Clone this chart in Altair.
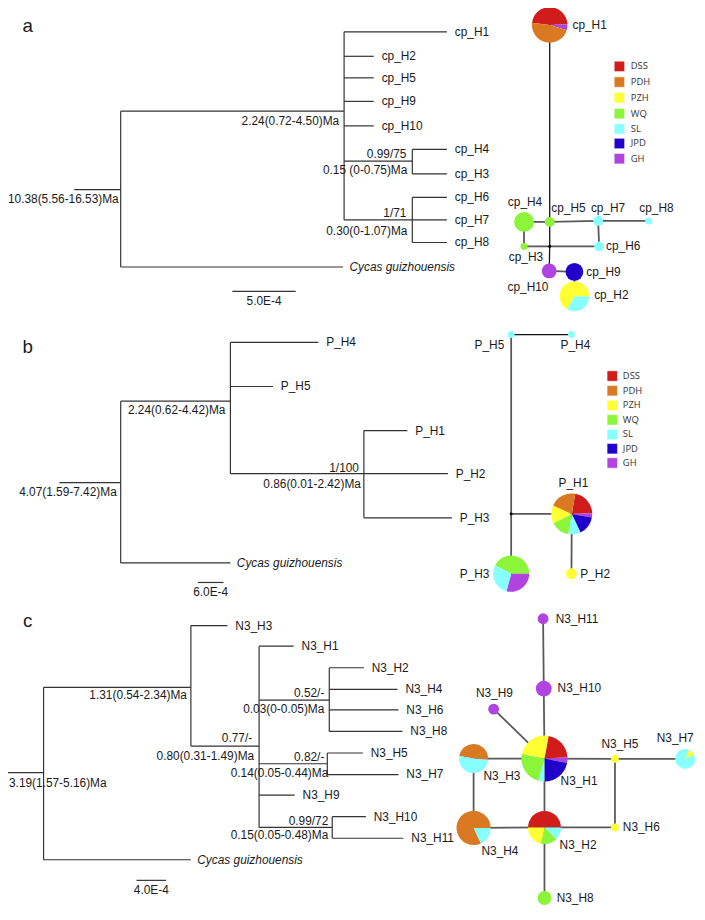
import math
import altair as alt
import pandas as pd

# ---------------- populations ----------------
POPS = ["DSS", "PDH", "PZH", "WQ", "SL", "JPD", "GH"]
POP_COLORS = ["#d11c1c", "#d97a22", "#ffff33", "#8cf53a", "#88ffff", "#2200cc", "#b044e0"]

# ---------------- trees: (id, x, y, parent) ----------------
TREE_A = [
    ("Ra", 122, 188, None), ("A1", 348, 108, "Ra"), ("Cga", 347, 267, "Ra"),
    ("cp_H1", 452, 27, "A1"), ("cp_H2", 378, 52, "A1"), ("cp_H5", 378, 74, "A1"),
    ("cp_H9", 378, 98, "A1"), ("cp_H10", 378, 123, "A1"),
    ("A2", 417, 159, "A1"), ("cp_H4", 452, 147, "A2"), ("cp_H3", 452, 172, "A2"),
    ("A3", 417, 219, "A1"), ("cp_H6", 452, 196, "A3"), ("cp_H7", 452, 219, "A3"),
    ("cp_H8", 452, 242, "A3"),
]
TREE_B = [
    ("Rb", 122, 487, None), ("B1", 233, 404, "Rb"), ("Cgb", 233, 569, "Rb"),
    ("P_H4", 322, 344, "B1"), ("P_H5", 276, 389, "B1"), ("B2", 368, 478, "B1"),
    ("P_H1", 412, 434, "B2"), ("P_H2", 453, 478, "B2"), ("P_H3", 457, 523, "B2"),
]
TREE_C = [
    ("Rc", 44, 783, None), ("C1", 193, 696, "Rc"), ("Cgc", 193, 872, "Rc"),
    ("N3_H3", 230, 633, "C1"), ("C2", 262, 756, "C1"),
    ("N3_H1", 297, 654, "C2"),
    ("C3", 333, 709, "C2"), ("N3_H2", 368, 676, "C3"), ("N3_H4", 402, 698, "C3"),
    ("N3_H6", 403, 719, "C3"), ("N3_H8", 407, 741, "C3"),
    ("C4", 331, 774, "C2"), ("N3_H5", 367, 763, "C4"), ("N3_H7", 403, 785, "C4"),
    ("N3_H9", 298, 806, "C2"),
    ("C5", 336, 839, "C2"), ("N3_H10", 370, 828, "C5"), ("N3_H11", 408, 850, "C5"),
]
STEM_X = [75, 60, 2]
OUTGROUP = "Cycas guizhouensis"

NODE_TEXT_RIGHT = [  # right-aligned node annotations (text, x, y)
    ("10.38(5.56-16.53)Ma", 120, 198), ("2.24(0.72-4.50)Ma", 343, 118),
    ("0.99/75", 411, 152), ("0.15 (0-0.75)Ma", 412, 168),
    ("1/71", 411, 212), ("0.30(0-1.07)Ma", 412, 230),
    ("4.07(1.59-7.42)Ma", 118, 497), ("2.24(0.62-4.42)Ma", 228, 413),
    ("1/100", 363, 472), ("0.86(0.01-2.42)Ma", 365, 489),
    ("1.31(0.54-2.34)Ma", 189, 704),
    ("0.77/-", 255, 748), ("0.80(0.31-1.49)Ma", 257, 766),
    ("0.52/-", 328, 702), ("0.03(0-0.05)Ma", 328, 718),
    ("0.82/-", 328, 767), ("0.14(0.05-0.44)Ma", 332, 783),
    ("0.99/72", 332, 832), ("0.15(0.05-0.48)Ma", 332, 847),
]
NODE_TEXT_LEFT = [("3.19(1.57-5.16)Ma", 9, 794)]
SCALE_BARS = [("5.0E-4", 235, 299, 292), ("6.0E-4", 200, 226, 589), ("4.0E-4", 138, 168, 893)]
PANEL_LETTERS = [("a", 28, 21), ("b", 28, 349), ("c", 28, 628)]

# ---------------- haplotype networks: name -> (x, y, r, start_deg, [(pop, deg)]) ----------------
HAPS = {
    "cp_H1": (556, 20, 18, 277, [("DSS", 171), ("GH", 19), ("PDH", 170)]),
    "cp_H2": (581, 297, 15, 90, [("SL", 120), ("PZH", 240)]),
    "cp_H3": (530, 246, 3.5, 0, [("WQ", 360)]),
    "cp_H4": (530, 221, 10, 0, [("WQ", 360)]),
    "cp_H5": (556, 221, 5, 0, [("WQ", 360)]),
    "cp_H6": (606, 246, 5, 0, [("SL", 360)]),
    "cp_H7": (605, 220, 5, 0, [("SL", 360)]),
    "cp_H8": (656, 220, 3.5, 0, [("SL", 360)]),
    "cp_H9": (581, 272, 9, 0, [("JPD", 360)]),
    "cp_H10": (555.5, 271, 7.5, 0, [("GH", 360)]),
    "P_H1": (578.3, 519, 20.7, 10, [("DSS", 78), ("GH", 12), ("JPD", 55), ("SL", 35),
                                    ("WQ", 53), ("PZH", 51), ("PDH", 76)]),
    "P_H2": (578, 580, 5.5, 0, [("PZH", 360)]),
    "P_H3": (517, 580, 18.3, 297, [("WQ", 153), ("GH", 105), ("SL", 102)]),
    "P_H4": (578, 336, 3.5, 0, [("SL", 360)]),
    "P_H5": (517, 336, 3.5, 0, [("SL", 360)]),
    "N3_H1": (550.7, 768.7, 23.3, 10, [("DSS", 77), ("GH", 14), ("JPD", 79), ("SL", 16),
                                       ("WQ", 86), ("PZH", 88)]),
    "N3_H2": (550.7, 839, 16.7, 270, [("DSS", 180), ("SL", 44), ("WQ", 59), ("PZH", 77)]),
    "N3_H3": (479, 768.7, 14.7, 280, [("PDH", 175), ("SL", 185)]),
    "N3_H4": (479, 839.5, 17.3, 90, [("SL", 65), ("PDH", 295)]),
    "N3_H5": (622, 769, 4, 0, [("PZH", 360)]),
    "N3_H6": (622, 839, 4, 0, [("PZH", 360)]),
    "N3_H7": (693, 769, 10, 25, [("PZH", 40), ("SL", 320)]),
    "N3_H8": (550.7, 911, 7, 0, [("WQ", 360)]),
    "N3_H9": (499.3, 718.3, 5.5, 0, [("GH", 360)]),
    "N3_H10": (550, 697.3, 8, 0, [("GH", 360)]),
    "N3_H11": (549.3, 626, 5.5, 0, [("GH", 360)]),
}
JUNCTIONS = {"Ja": (556, 246), "Jb": (517, 519)}
DARK_EDGES = [("cp_H1", "cp_H5"), ("cp_H5", "Ja"), ("Ja", "cp_H10"), ("P_H5", "P_H4")]
GRAY_EDGES = [
    ("cp_H4", "cp_H5"), ("cp_H5", "cp_H7"), ("cp_H7", "cp_H8"), ("cp_H4", "cp_H3"),
    ("cp_H3", "Ja"), ("Ja", "cp_H6"), ("cp_H7", "cp_H6"), ("cp_H10", "cp_H9"),
    ("cp_H9", "cp_H2"),
    ("P_H5", "Jb"), ("Jb", "P_H3"), ("Jb", "P_H1"), ("P_H1", "P_H2"),
    ("N3_H11", "N3_H10"), ("N3_H10", "N3_H1"), ("N3_H9", "N3_H1"), ("N3_H3", "N3_H1"),
    ("N3_H1", "N3_H5"), ("N3_H5", "N3_H7"), ("N3_H1", "N3_H2"), ("N3_H3", "N3_H4"),
    ("N3_H4", "N3_H2"), ("N3_H2", "N3_H6"), ("N3_H5", "N3_H6"), ("N3_H2", "N3_H8"),
]
NET_LABELS_LEFT = [
    ("cp_H1", 579, 20), ("cp_H6", 613, 246), ("cp_H9", 593, 272), ("cp_H2", 601, 296),
    ("P_H2", 587, 580),
    ("N3_H11", 562, 626), ("N3_H10", 564, 697), ("N3_H1", 567, 792), ("N3_H3", 489, 787),
    ("N3_H4", 487, 863), ("N3_H2", 566, 857), ("N3_H6", 630, 839), ("N3_H8", 563, 911),
]
NET_LABELS_CENTER = [
    ("cp_H4", 531, 201), ("cp_H5", 575, 207), ("cp_H7", 615, 207), ("cp_H8", 664, 207),
    ("cp_H3", 532, 257), ("cp_H10", 534, 287),
    ("P_H5", 495, 347), ("P_H4", 582, 347), ("P_H1", 580, 488), ("P_H3", 480, 580),
    ("N3_H9", 500, 702), ("N3_H5", 627, 754), ("N3_H7", 683, 748),
]
LEGEND_A_Y = [62.3, 78.3, 94.3, 110.5, 126, 141, 156.5]
LEGEND_B_Y = [378.3, 393.3, 408.3, 423, 438, 452.5, 467]
LEGEND_X = [(626.5, 638), (619.3, 630)]

# ---------------- build tables ----------------
tree_segs, tip_rows, og_rows = [], [], []
for nodes, sx in zip([TREE_A, TREE_B, TREE_C], STEM_X):
    pos = {n[0]: (n[1], n[2]) for n in nodes}
    for nid, x, y, par in nodes:
        px = sx if par is None else pos[par][0]
        tree_segs.append({"x": px, "y": y, "x2": x, "y2": y})
        kids = [k[2] for k in nodes if k[3] == nid]
        if kids:
            ys = kids + [y]
            tree_segs.append({"x": x, "y": min(ys), "x2": x, "y2": max(ys)})
        if nid.startswith("Cg"):
            og_rows.append({"t": OUTGROUP, "x": x + 6.5, "y": y})
        elif "_H" in nid:
            tip_rows.append({"t": nid, "x": x + 8, "y": y})
for lab, x1, x2, y in SCALE_BARS:
    tree_segs.append({"x": x1, "y": y, "x2": x2, "y2": y})
tree_df = pd.DataFrame(tree_segs)
tips_df = pd.DataFrame(tip_rows)
og_df = pd.DataFrame(og_rows)
node_r_df = pd.DataFrame(NODE_TEXT_RIGHT, columns=["t", "x", "y"])
node_l_df = pd.DataFrame(NODE_TEXT_LEFT, columns=["t", "x", "y"])
bar_lab_df = pd.DataFrame([{"t": l, "x": (a + b) / 2, "y": y + 10} for l, a, b, y in SCALE_BARS])
letters_df = pd.DataFrame(PANEL_LETTERS, columns=["t", "x", "y"])

allpos = {k: (v[0], v[1]) for k, v in HAPS.items()}
allpos.update(JUNCTIONS)


def edge_df(edges):
    return pd.DataFrame([{"x": allpos[a][0], "y": allpos[a][1],
                          "x2": allpos[b][0], "y2": allpos[b][1]} for a, b in edges])


dark_df = edge_df(DARK_EDGES)
gray_df = edge_df(GRAY_EDGES)
junc_df = pd.DataFrame([{"x": v[0], "y": v[1]} for v in JUNCTIONS.values()])

pie_rows = []
for name, (x, y, r, start, parts) in HAPS.items():
    a = start
    for pop, deg in parts:
        pie_rows.append({"hap": name, "pop": pop, "x": x, "y": y, "r": r,
                         "t0": math.radians(a), "t1": math.radians(a + deg)})
        a += deg
pie_df = pd.DataFrame(pie_rows)

leg_rows = []
for (sqx, tx), ys in zip(LEGEND_X, [LEGEND_A_Y, LEGEND_B_Y]):
    for pop, y in zip(POPS, ys):
        leg_rows.append({"pop": pop, "x": sqx, "tx": tx, "y": y})
leg_df = pd.DataFrame(leg_rows)

netl_df = pd.DataFrame(NET_LABELS_LEFT, columns=["t", "x", "y"])
netc_df = pd.DataFrame(NET_LABELS_CENTER, columns=["t", "x", "y"])

# ---------------- chart ----------------
H = 904
XS = alt.Scale(domain=[8, 705], nice=False, zero=False)
YS = alt.Scale(domain=[8, 920], nice=False, zero=False, reverse=True)
CS = alt.Scale(domain=POPS, range=POP_COLORS)
FONT = "Liberation Sans"


def X(f="x"):
    return alt.X(f + ":Q", scale=XS, axis=None)


def Y(f="y"):
    return alt.Y(f + ":Q", scale=YS, axis=None)


def rules(df, color, width):
    return alt.Chart(df).mark_rule(color=color, strokeWidth=width).encode(
        x=X(), y=Y(), x2="x2:Q", y2="y2:Q")


def texts(df, align, size=12, style="normal", font=FONT, color="#1a1a1a", xf="x"):
    return alt.Chart(df).mark_text(align=align, baseline="middle", fontSize=size,
                                   fontStyle=style, font=font, color=color).encode(
        x=X(xf), y=Y(), text="t:N")


layers = [
    rules(tree_df, "#333333", 1.2),
    rules(gray_df, "#595959", 1.8),
    rules(dark_df, "#111111", 1.3),
    alt.Chart(junc_df).mark_circle(color="#000000", size=9, opacity=1).encode(x=X(), y=Y()),
    alt.Chart(pie_df).mark_arc().encode(
        x=X(), y=Y(),
        theta=alt.Theta("t0:Q", scale=None),
        theta2=alt.Theta2("t1:Q"),
        radius=alt.Radius("r:Q", scale=None),
        color=alt.Color("pop:N", scale=CS, legend=None),
    ),
    alt.Chart(leg_df).mark_square(size=110, opacity=1, stroke="#ffffff", strokeWidth=0.5).encode(
        x=X(), y=Y(), color=alt.Color("pop:N", scale=CS, legend=None)),
    alt.Chart(leg_df).mark_text(align="left", baseline="middle", fontSize=9.5,
                                font="Open Sans", color="#333333").encode(
        x=X("tx"), y=Y(), text="pop:N"),
    texts(tips_df, "left"),
    texts(og_df, "left", style="italic"),
    texts(node_r_df, "right"),
    texts(node_l_df, "left"),
    texts(bar_lab_df, "center"),
    texts(letters_df, "center", size=19),
    texts(netl_df, "left"),
    texts(netc_df, "center"),
]

chart = alt.layer(*layers).properties(
    width=697, height=H, padding=0,
    autosize=alt.AutoSizeParams(type="none"),
).configure_view(stroke=None)

chart.save("out.html", embed_options={"renderer": "svg", "actions": False})
